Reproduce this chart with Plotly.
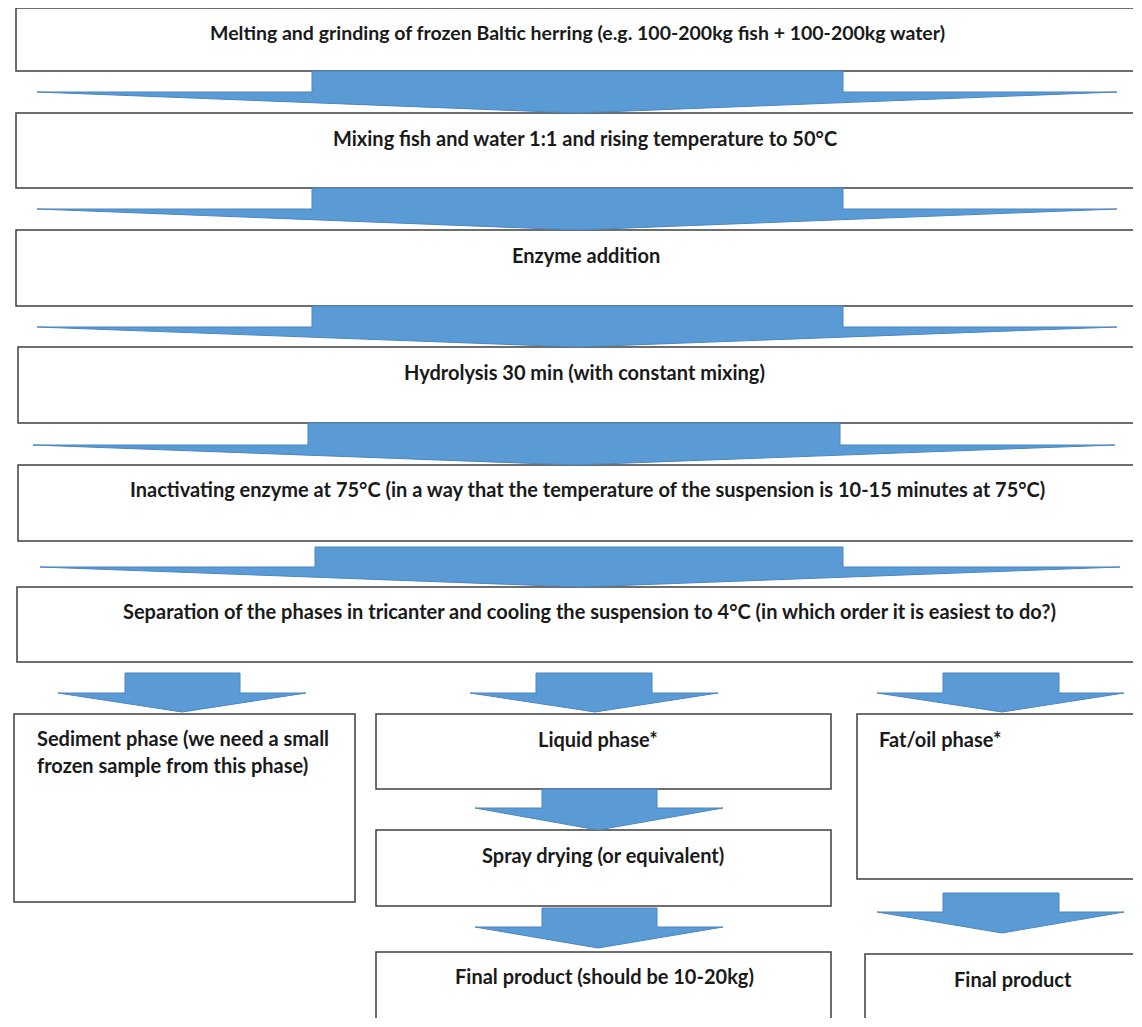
import plotly.graph_objects as go

# ---- content ----
main_steps = [
    "Melting and grinding of frozen Baltic herring (e.g. 100-200kg fish + 100-200kg water)",
    "Mixing fish and water 1:1 and rising temperature to 50°C",
    "Enzyme addition",
    "Hydrolysis 30 min (with constant mixing)",
    "Inactivating enzyme at 75°C (in a way that the temperature of the suspension is 10-15 minutes at 75°C)",
    "Separation of the phases in tricanter and cooling the suspension to 4°C (in which order it is easiest to do?)",
]
sediment_lines = ["Sediment phase (we need a small", "frozen sample from this phase)"]
liquid_steps = ["Liquid phase*", "Spray drying (or equivalent)", "Final product (should be 10-20kg)"]
fat_steps = ["Fat/oil phase*", "Final product"]

# ---- geometry (pixel layout, screen coordinates) ----
W, H = 1142, 1027
OFF = 8  # page body margin
FW, FH = W - 2 * OFF, H - 2 * OFF  # figure fits the page without overflow
EDGE_R, EDGE_B = 1133, 1018  # sides that run off the picture are not drawn
# box: (x0, y0, x1, y1, draw_right, draw_bottom)
main_boxes = [(16, 8, EDGE_R, 71, False, True), (16, 113, EDGE_R, 188, False, True),
              (16, 230, EDGE_R, 306, False, True), (18, 347, EDGE_R, 423, False, True),
              (18, 465, EDGE_R, 541, False, True), (17, 587, EDGE_R, 662, False, True)]
main_text_xy = [(577, 32), (585, 138), (586, 255), (584, 372), (587, 489), (589, 611)]
main_text_size = [19.5, 20, 20, 20, 20, 20]
main_arrows = [  # shaft x0,x1, ytop, ywing, wing x0,x1, tip x, tip y
    (312, 843, 71, 92, 37, 1117, 577, 113),
    (312, 843, 188, 209, 37, 1117, 577, 230),
    (312, 843, 306, 327, 37, 1117, 577, 347),
    (308, 840, 423, 445, 33, 1115, 574, 465),
    (315, 843, 547, 567, 40, 1120, 580, 587),
]
sed_box = (14, 714, 355, 902, True, True)
liq_boxes = [(376, 714, 831, 789, True, True), (376, 830, 831, 906, True, True),
             (376, 952, 831, EDGE_B, True, False)]
liq_text_xy = [(598, 739), (603, 855), (604, 976)]
fat_boxes = [(857, 714, EDGE_R, 879, False, True), (865, 954, EDGE_R, EDGE_B, False, False)]
small_arrows = [
    (125, 240, 673, 693, 58, 306, 182, 712),
    (536, 652, 673, 693, 470, 718, 595, 712),
    (542, 657, 789, 808, 475, 723, 598, 830),
    (542, 657, 908, 927, 475, 723, 598, 948),
    (943, 1059, 673, 693, 877, 1124, 1002, 712),
    (943, 1059, 893, 912, 877, 1124, 1002, 933),
]

BOX_LINE = "#3f3f3f"
ARROW_FILL = "#5b9bd5"
ARROW_LINE = "#4a86c0"
TXT = "#1a1a1a"
FONT = "Lato"
FS = 20

fig = go.Figure()
shapes = []
annotations = []

def box(b):
    x0, y0, x1, y1, right, bottom = b
    if right and bottom:
        path = f"M{x0},{y0} L{x1},{y0} L{x1},{y1} L{x0},{y1} Z"
    elif bottom:
        path = f"M{x1},{y0} L{x0},{y0} L{x0},{y1} L{x1},{y1}"
    elif right:
        path = f"M{x0},{y1} L{x0},{y0} L{x1},{y0} L{x1},{y1}"
    else:
        path = f"M{x0},{y1} L{x0},{y0} L{x1},{y0}"
    shapes.append(dict(type="path", xref="x", yref="y", path=path,
                       line=dict(color=BOX_LINE, width=1.5), layer="below"))

def arrow(a):
    sx0, sx1, yt, yw, wx0, wx1, tx, ty = a
    path = (f"M{sx0},{yt} L{sx1},{yt} L{sx1},{yw} L{wx1},{yw} L{tx},{ty} "
            f"L{wx0},{yw} L{sx0},{yw} Z")
    shapes.append(dict(type="path", xref="x", yref="y", path=path,
                       fillcolor=ARROW_FILL, line=dict(color=ARROW_LINE, width=1), layer="above"))

def label(text, x, y, anchor="center", size=FS):
    annotations.append(dict(x=x, y=y, xref="x", yref="y", text=text, showarrow=False,
                            xanchor=anchor, yanchor="middle", align="left",
                            font=dict(family=FONT, size=size, color=TXT, weight="bold")))

for b in main_boxes:
    box(b)
box(sed_box)
for b in liq_boxes:
    box(b)
for b in fat_boxes:
    box(b)
for a in main_arrows + small_arrows:
    arrow(a)

for t, (x, y), s in zip(main_steps, main_text_xy, main_text_size):
    label(t, x, y, size=s)
label(sediment_lines[0], 35, 738, anchor="left")
label(sediment_lines[1], 35, 765, anchor="left")
for t, (x, y) in zip(liquid_steps, liq_text_xy):
    label(t, x, y)
label(fat_steps[0], 877, 739, anchor="left")
label(fat_steps[1], 1013, 979)

fig.update_layout(
    width=FW, height=FH, margin=dict(l=0, r=0, t=0, b=0),
    paper_bgcolor="white", plot_bgcolor="white",
    xaxis=dict(range=[OFF, OFF + FW], visible=False, fixedrange=True),
    yaxis=dict(range=[OFF + FH, OFF], visible=False, fixedrange=True),
    shapes=shapes, annotations=annotations, showlegend=False,
)
fig.write_html("out.html")
